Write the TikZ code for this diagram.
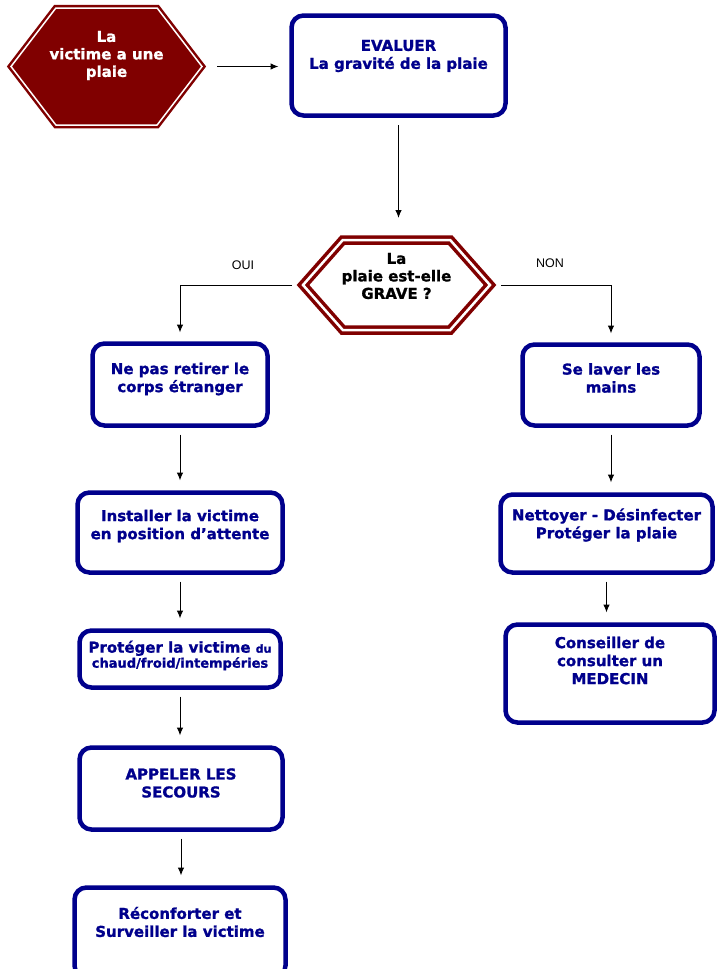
\documentclass[tikz,border=0pt]{standalone}
\usepackage{fontspec}
\setmainfont{DejaVu Sans}
\newfontfamily\gras{DejaVu Sans Bold}[FakeBold=1.2]
\newfontfamily\arialfont{Liberation Sans}
\usepackage{xcolor}
\usetikzlibrary{shapes.symbols,arrows.meta}

\definecolor{marine}{RGB}{0,0,140}
\definecolor{bordeaux}{RGB}{128,0,0}

\tikzset{
  boite/.style={draw=marine, line width=4.5pt, rounded corners=12pt, fill=white, inner sep=0pt, outer sep=0pt},
  txt/.style={text=marine, font=\gras\fontsize{15}{18}\selectfont, align=center},
  hexa/.style={signal, signal to=west and east, draw=bordeaux, line width=2.5pt, double=white, double distance=1.5pt, inner sep=0pt, outer sep=0pt},
  fleche/.style={-{Latex[length=8pt,width=6.5pt]}, line width=1pt, shorten <=9pt, shorten >=12pt},
  etiq/.style={font=\arialfont\fontsize{12.5}{14}\selectfont},
}

\begin{document}
\begin{tikzpicture}[x=1pt, y=-1pt]
        \useasboundingbox (0,0) rectangle (717,969);
        % depart
        \node[hexa, fill=bordeaux, signal pointer angle=105, minimum width=191pt, minimum height=117pt,
          label={[txt, text=white, font=\gras\fontsize{15}{17.5}\selectfont, yshift=11pt]center:La\\victime a une\\plaie}] (victime) at (106.5,66.5) {};
        \node[boite, minimum width=214pt, minimum height=100pt,
          label={[txt, yshift=9.5pt]center:EVALUER\\La gravité de la plaie}] (evaluer) at (398.5,65.5) {};
        \node[hexa, fill=white, line width=3.5pt, double distance=2.5pt, signal pointer angle=97, minimum width=187pt, minimum height=90pt,
          label={[txt, text=black, font=\gras\fontsize{15}{17.5}\selectfont, yshift=9pt]center:La\\plaie est-elle\\GRAVE ?}] (grave) at (396.5,285) {};
        % cote OUI
        \node[boite, minimum width=175pt, minimum height=82pt,
          label={[txt, yshift=5.5pt]center:Ne pas retirer le\\corps étranger}] (retirer) at (180,384.5) {};
        \node[boite, minimum width=205pt, minimum height=80pt,
          label={[txt, yshift=6.5pt]center:Installer la victime\\en position d’attente}] (installer) at (180,532.5) {};
        \node[boite, minimum width=201pt, minimum height=57pt,
          label={[txt, font=\gras\fontsize{15}{15}\selectfont, yshift=3.5pt]center:Protéger la victime {\fontsize{11}{13}\selectfont du}\\{\fontsize{13}{15}\selectfont chaud/froid/intempéries}}] (proteger) at (180,659) {};
        \node[boite, minimum width=203pt, minimum height=82pt,
          label={[txt, yshift=5.5pt]center:APPELER LES\\SECOURS}] (appeler) at (181,788.5) {};
        \node[boite, minimum width=211pt, minimum height=90pt,
          label={[txt, yshift=10.5pt]center:Réconforter et\\Surveiller la victime}] (reconforter) at (180,932.5) {};
        % cote NON
        \node[boite, minimum width=177pt, minimum height=81pt,
          label={[txt, yshift=7pt]center:Se laver les\\mains}] (laver) at (611,385) {};
        \node[boite, minimum width=212pt, minimum height=78pt,
          label={[txt, yshift=8.5pt]center:Nettoyer - Désinfecter\\Protéger la plaie}] (nettoyer) at (606.5,533.5) {};
        \node[boite, minimum width=209pt, minimum height=98pt,
          label={[txt, yshift=13pt]center:Conseiller de\\consulter un\\MEDECIN}] (conseiller) at (610,673.5) {};
        \node[etiq] (oui) at (243,265) {OUI};
        \node[etiq] (non) at (550,263) {NON};
        % fleches
        \draw[fleche, shorten <=15pt, shorten >=13pt] (victime.east) -- (victime.east -| evaluer.west);
        \draw[fleche, shorten <=9.5pt, shorten >=22pt] (evaluer.south) -- (evaluer.south |- grave.north);
        \draw[fleche, shorten <=11pt, shorten >=11pt] (grave.west) -| (retirer.north);
        \draw[fleche, shorten <=11pt, shorten >=11pt] (grave.east) -| (laver.north);
        \draw[fleche] (retirer.south) -- (retirer.south |- installer.north);
        \draw[fleche] (installer.south) -- (installer.south |- proteger.north);
        \draw[fleche] (proteger.south) -- (proteger.south |- appeler.north);
        \draw[fleche] (appeler.south) -- (appeler.south |- reconforter.north);
        \draw[fleche] (laver.south) -- (laver.south |- nettoyer.north);
        \draw[fleche] (nettoyer.south) -- (nettoyer.south |- conseiller.north);
\end{tikzpicture}
\end{document}
